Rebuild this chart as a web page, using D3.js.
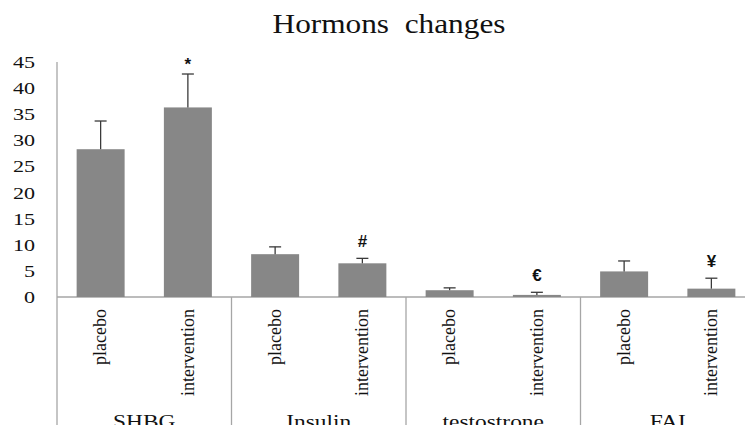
<!DOCTYPE html>
<html>
<head>
<meta charset="utf-8">
<script src="https://cdnjs.cloudflare.com/ajax/libs/d3/7.8.5/d3.min.js"></script>
<style>
  body { margin: 0; background: #fff; }
  svg { display: block; }
</style>
</head>
<body>
<div id="chart"></div>
<script>
// data
const groups = ["SHBG", "Insulin", "testostrone", "FAI"];
const conditions = ["placebo", "intervention"];
const placeboMean = [28.3, 8.2, 1.3, 4.9];
const placeboErr = [5.4, 1.4, 0.45, 2.0];
const interventionMean = [36.3, 6.45, 0.4, 1.6];
const interventionErr = [6.4, 0.95, 0.5, 2.0];
const interventionMarks = ["*", "#", "\u20AC", "\u00A5"];
const yTicks = [0, 5, 10, 15, 20, 25, 30, 35, 40, 45];

const width = 745, height = 425;
const margin = { top: 62, right: -10, bottom: 128, left: 57 };
const serif = "'Liberation Serif', 'Times New Roman', serif";

const svg = d3.select("#chart").append("svg")
  .attr("width", width)
  .attr("height", height);

// flatten into rows
let rows = [];
groups.forEach(function (g, i) {
  rows.push({ group: g, cond: "placebo", v: placeboMean[i], e: placeboErr[i], mark: "" });
  rows.push({ group: g, cond: "intervention", v: interventionMean[i], e: interventionErr[i], mark: interventionMarks[i] });
});

let x0 = d3.scaleBand().domain(groups).range([margin.left, width - margin.right]);
let x1 = d3.scaleBand().domain(conditions).range([0, x0.bandwidth()])
  .paddingInner(0.45).paddingOuter(0.225);
let y = d3.scaleLinear().domain([0, 45]).range([height - margin.bottom, margin.top]);

const axisColor = "#a6a6a6";

// title
svg.append("text")
  .attr("transform", "translate(389,33) scale(1.16,1)")
  .attr("text-anchor", "middle")
  .style("font-family", serif)
  .style("font-size", "27px")
  .style("white-space", "pre")
  .attr("fill", "#111")
  .text("Hormons  changes");

// y tick labels
svg.append("g").selectAll("text")
  .data(yTicks)
  .enter()
  .append("text")
  .attr("transform", d => "translate(35," + y(d) + ") scale(1.3,1)")
  .attr("text-anchor", "end")
  .attr("dy", "0.35em")
  .style("font-family", serif)
  .style("font-size", "17px")
  .attr("fill", "#111")
  .text(d => d);

// y axis line (runs down through the category area)
svg.append("line")
  .attr("x1", margin.left).attr("x2", margin.left)
  .attr("y1", y(45)).attr("y2", height)
  .attr("stroke", axisColor).attr("stroke-width", 1.3);

// baseline
svg.append("line")
  .attr("x1", margin.left).attr("x2", width)
  .attr("y1", y(0)).attr("y2", y(0))
  .attr("stroke", axisColor).attr("stroke-width", 1.3);

// group separators
svg.append("g").selectAll("line")
  .data(groups.slice(1))
  .enter()
  .append("line")
  .attr("x1", d => x0(d)).attr("x2", d => x0(d))
  .attr("y1", y(0)).attr("y2", height)
  .attr("stroke", axisColor).attr("stroke-width", 1.3);

// bars
let bar = svg.append("g").selectAll("g")
  .data(rows)
  .enter()
  .append("g")
  .attr("transform", d => "translate(" + (x0(d.group) + x1(d.cond)) + ",0)");

bar.append("rect")
  .attr("x", 0)
  .attr("y", d => y(d.v))
  .attr("width", x1.bandwidth())
  .attr("height", d => y(0) - y(d.v))
  .attr("fill", "#878787");

// error bars (upper only)
const cap = 6;
bar.append("line")
  .attr("x1", x1.bandwidth() / 2).attr("x2", x1.bandwidth() / 2)
  .attr("y1", d => y(d.v)).attr("y2", d => y(d.v + d.e))
  .attr("stroke", "#3a3a3a").attr("stroke-width", 1.3);
bar.append("line")
  .attr("x1", x1.bandwidth() / 2 - cap).attr("x2", x1.bandwidth() / 2 + cap)
  .attr("y1", d => y(d.v + d.e)).attr("y2", d => y(d.v + d.e))
  .attr("stroke", "#3a3a3a").attr("stroke-width", 1.3);

// significance marks
bar.filter(d => d.mark)
  .append("text")
  .attr("x", x1.bandwidth() / 2)
  .attr("y", d => y(d.v + d.e) - (d.mark === "*" ? 4 : 11))
  .attr("text-anchor", "middle")
  .style("font-family", "'Liberation Sans', Arial, sans-serif")
  .style("font-weight", "bold")
  .style("font-size", "17px")
  .attr("fill", "#111")
  .text(d => d.mark);

// condition labels (rotated)
bar.append("text")
  .attr("transform", "translate(" + (x1.bandwidth() / 2) + "," + (y(0) + 12) + ") rotate(-90)")
  .attr("text-anchor", "end")
  .attr("dy", "0.32em")
  .style("font-family", serif)
  .style("font-size", "18px")
  .attr("fill", "#111")
  .text(d => d.cond);

// group labels
svg.append("g").selectAll("text")
  .data(groups)
  .enter()
  .append("text")
  .attr("transform", d => "translate(" + (x0(d) + x0.bandwidth() / 2) + ",428) scale(1.3,1)")
  .attr("text-anchor", "middle")
  .style("font-family", serif)
  .style("font-size", "18px")
  .attr("fill", "#111")
  .text(d => d);
</script>
</body>
</html>
